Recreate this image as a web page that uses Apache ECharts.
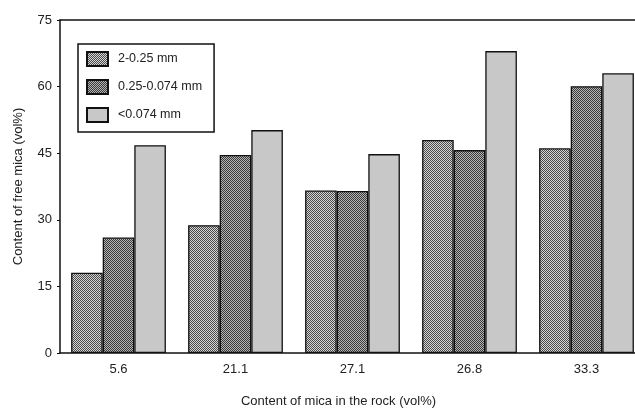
<!DOCTYPE html>
<html>
<head>
<meta charset="utf-8" />
<script src="https://cdn.jsdelivr.net/npm/echarts@6/dist/echarts.min.js"></script>
<style>
  * { margin: 0; padding: 0; }
  body { background: #fff; }
  #chart { width: 635px; height: 408px; }
</style>
</head>
<body>
<div id="chart"></div>
<script>
// mica content in the rock (vol%) - one group per sample
var categories = ['5.6', '21.1', '27.1', '26.8', '33.3'];
var seriesNames = ['2-0.25 mm', '0.25-0.074 mm', '<0.074 mm'];
var coarse = [18.1, 28.8, 36.6, 48.0, 46.1];
var medium = [26.0, 44.6, 36.5, 45.7, 60.1];
var fine = [46.8, 50.2, 44.8, 68.0, 63.0];
var yTicks = [0, 15, 30, 45, 60, 75];

// small checker dots like the printed hatching
function checker(dark, light) {
  var c = document.createElement('canvas');
  c.width = 2; c.height = 2;
  var ctx = c.getContext('2d');
  ctx.fillStyle = light;
  ctx.fillRect(0, 0, 2, 2);
  ctx.fillStyle = dark;
  ctx.fillRect(0, 0, 1, 1);
  ctx.fillRect(1, 1, 1, 1);
  return { image: c, repeat: 'repeat' };
}

var chart = echarts.init(document.getElementById('chart'));
var font = 'Liberation Sans, Arial, sans-serif';
var fills = [checker('#4a4a4a', '#d6d6d6'), checker('#3a3a3a', '#b4b4b4'), '#c8c8c8'];
var values = [coarse, medium, fine];

chart.setOption({
  animation: false,
  textStyle: { fontFamily: font },
  // plot runs past the right edge, like the cropped original
  grid: { left: 60, top: 20, width: 585, height: 333, outerBoundsMode: 'none', containLabel: false },
  legend: {
    orient: 'vertical',
    left: 78,
    top: 44,
    icon: 'rect',
    itemWidth: 21,
    itemHeight: 14,
    itemGap: 12,
    padding: [7, 12, 9, 8],
    backgroundColor: '#fff',
    borderColor: '#111',
    borderWidth: 1.5,
    borderRadius: 0,
    textStyle: { fontSize: 12.5, color: '#222', padding: [0, 0, 0, 5] },
    data: seriesNames
  },
  xAxis: [{
    type: 'category',
    data: categories,
    name: 'Content of mica in the rock (vol%)',
    nameLocation: 'middle',
    nameGap: 42,
    nameTextStyle: { fontSize: 13, color: '#222', padding: [0, 28, 0, 0] },
    axisLine: { lineStyle: { color: '#111', width: 1.5 } },
    axisTick: { inside: true, length: 4, lineStyle: { color: '#111' } },
    axisLabel: { fontSize: 13, color: '#222', margin: 10 }
  }, {
    type: 'category',
    data: categories,
    position: 'top',
    axisLine: { lineStyle: { color: '#111', width: 1.5 } },
    axisTick: { inside: true, length: 4, lineStyle: { color: '#111' } },
    axisLabel: { show: false }
  }],
  yAxis: {
    type: 'value',
    min: yTicks[0],
    max: yTicks[yTicks.length - 1],
    interval: 15,
    name: 'Content of free mica (vol%)',
    nameLocation: 'middle',
    nameGap: 35,
    nameTextStyle: { fontSize: 13, color: '#222' },
    axisLine: { show: true, lineStyle: { color: '#111', width: 1.5 } },
    axisTick: { show: true, length: 3, lineStyle: { color: '#111' } },
    axisLabel: { fontSize: 13, color: '#222', margin: 8 },
    splitLine: { show: false }
  },
  series: seriesNames.map(function (name, i) {
    return {
      name: name,
      type: 'bar',
      data: values[i],
      barGap: '0%',
      barCategoryGap: '19%',
      itemStyle: { color: fills[i], borderColor: '#111', borderWidth: 1.3 }
    };
  })
});
</script>
</body>
</html>
